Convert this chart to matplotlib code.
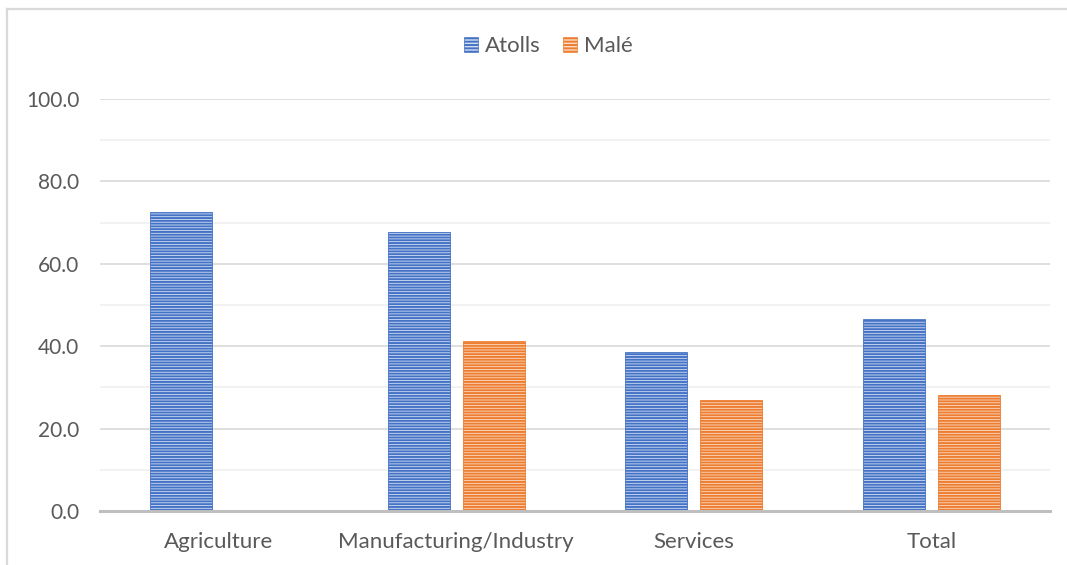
import numpy as np
import matplotlib.pyplot as plt
from matplotlib.lines import Line2D
from matplotlib.patches import Patch

# Data
categories = ["Agriculture", "Manufacturing/Industry", "Services", "Total"]
atolls = [72.6, 67.8, 38.6, 46.6]
male = [0.0, 41.3, 26.9, 28.2]

plt.rcParams["font.family"] = ["Lato", "DejaVu Sans"]
plt.rcParams["hatch.linewidth"] = 1.4

blue = "#4472C4"
blue_bg = "#d3def3"
orange = "#ED7D31"
orange_bg = "#fbdcc5"
text_col = "#595959"

fig = plt.figure(figsize=(10.67, 5.65), dpi=100)
ax = fig.add_axes([100 / 1067, 1 - 511 / 565, 950 / 1067, 412 / 565])

x = np.arange(len(categories))
width = 0.26
off = 0.158

# hatch colour follows the edge colour
ax.bar(x - off, atolls, width, color=blue_bg, edgecolor=blue,
       hatch="------", linewidth=0.6, zorder=3, label="Atolls")
ax.bar(x + off, male, width, color=orange_bg, edgecolor=orange,
       hatch="------", linewidth=0.6, zorder=3, label="Malé")

ax.set_xlim(-0.5, 3.5)
ax.set_ylim(0, 100)
ax.set_yticks(np.arange(0, 101, 20))
ax.set_yticklabels([f"{v:.1f}" for v in range(0, 101, 20)])
ax.set_yticks(np.arange(10, 100, 20), minor=True)
ax.set_xticks(x)
ax.set_xticklabels(categories)

ax.grid(axis="y", which="major", color="#d9d9d9", linewidth=1.2, zorder=0)
ax.grid(axis="y", which="minor", color="#f0f0f0", linewidth=1.2, zorder=0)
ax.set_axisbelow(True)

for s in ["top", "right", "left"]:
    ax.spines[s].set_visible(False)
ax.spines["bottom"].set_color("#bfbfbf")
ax.spines["bottom"].set_linewidth(2.2)
ax.spines["bottom"].set_zorder(4)

ax.tick_params(axis="both", which="both", length=0, labelcolor=text_col)
ax.tick_params(axis="y", labelsize=15, pad=15)
ax.tick_params(axis="x", labelsize=16, pad=15)

handles = [Patch(facecolor=blue_bg, edgecolor=blue, hatch="-----", linewidth=0.5),
           Patch(facecolor=orange_bg, edgecolor=orange, hatch="-----", linewidth=0.5)]
fig.legend(handles, ["Atolls", "Malé"], loc="center", bbox_to_anchor=(548 / 1067, 1 - 46 / 565),
           ncol=2, frameon=False, fontsize=16, labelcolor=text_col,
           handlelength=0.65, handleheight=0.65, handletextpad=0.3, columnspacing=1.0)

# light frame on top and left edges
fig.add_artist(Line2D([6.5 / 1067, 6.5 / 1067], [0, 1 - 8.5 / 565], color="#d9d9d9",
                      linewidth=1.6, transform=fig.transFigure))
fig.add_artist(Line2D([6.5 / 1067, 1], [1 - 8.5 / 565, 1 - 8.5 / 565], color="#d9d9d9",
                      linewidth=1.6, transform=fig.transFigure))

plt.savefig("out.png", dpi=100)
